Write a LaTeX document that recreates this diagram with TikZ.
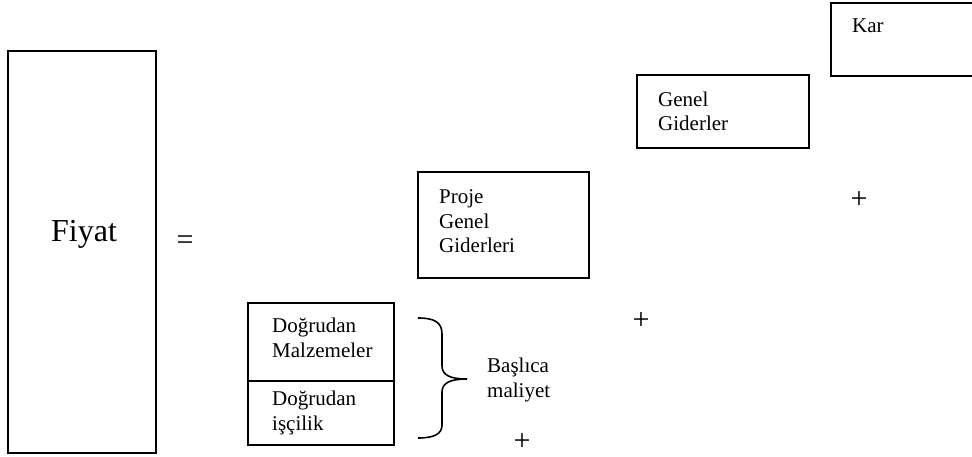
\documentclass[tikz,border=0pt]{standalone}
\usepackage{fontspec}
\setmainfont{Liberation Serif}
\begin{document}
\begin{tikzpicture}[x=1pt,y=-1pt,
  frame/.style={draw=black,line width=1.8pt,inner sep=0pt,outer sep=0pt},
  label/.style={anchor=base west,inner sep=0pt,align=left,
    font=\fontsize{21}{24.5}\selectfont},
  sign/.style={inner sep=0pt,font=\fontsize{30}{30}\selectfont}]
\useasboundingbox (0,0) rectangle (972,457);
\clip (0,0) rectangle (972,457);

% price box
\node[frame,minimum width=148pt,minimum height=402pt] (fiyat) at (82,252) {};
\node[anchor=base,inner sep=0pt,font=\fontsize{32}{32}\selectfont] (fiyattxt) at (84,241) {Fiyat};
\node[sign] (eq) at (185,243) {=};

% direct costs box, split in two
\node[frame,minimum width=146pt,minimum height=142pt] (direct) at (321,374) {};
\coordinate (divL) at (248,381);
\coordinate (divR) at (394,381);
\draw[line width=1.8pt] (divL) -- (divR);
% (multi-line labels are placed by the baseline of their last line)
\node[label] (malz) at (272,357) {Doğrudan\\Malzemeler};
\node[label] (iscilik) at (272,430) {Doğrudan\\işçilik};

% brace grouping the direct costs
\coordinate (btop) at (418,318);
\coordinate (btip) at (467,379);
\coordinate (bbot) at (418,438);
\draw[line width=1.6pt]
  (btop) .. controls (434,318) and (442,322) .. (442,334) -- (442,366)
  .. controls (442,375) and (450,379) .. (btip)
  .. controls (450,379) and (442,383) .. (442,392) -- (442,425)
  .. controls (442,434) and (434,438) .. (bbot);
\node[label] (baslica) at (487,397) {Başlıca\\maliyet};
\node[sign] (p1) at (522,442) {+};

% project overheads
\node[frame,minimum width=171pt,minimum height=106pt] (proje) at (503.5,225) {};
\node[label] (projetxt) at (439,253) {Proje\\Genel\\Giderleri};
\node[sign] (p2) at (641,321) {+};

% general overheads
\node[frame,minimum width=172pt,minimum height=73pt] (genel) at (723,111.5) {};
\node[label] (geneltxt) at (658,131) {Genel\\Giderler};
\node[sign] (p3) at (859,200) {+};

% profit
\node[frame,minimum width=150pt,minimum height=73pt] (kar) at (906,39.5) {};
\node[label] (kartxt) at (852,33) {Kar};
\end{tikzpicture}
\end{document}
